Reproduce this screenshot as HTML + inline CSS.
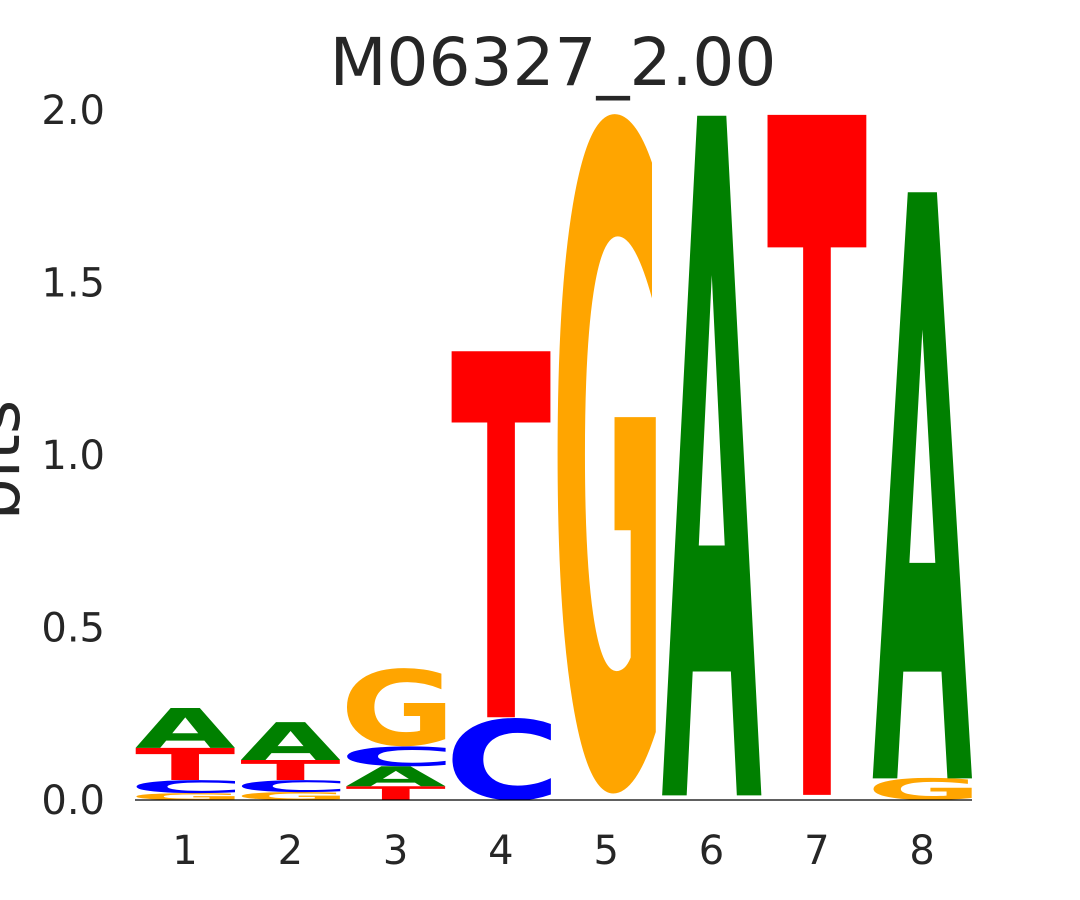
<!DOCTYPE html>
<html><head><meta charset="utf-8"><style>
html,body{margin:0;background:#fff;width:1080px;height:900px;overflow:hidden;}
svg{display:block;}
svg text{font-family:"DejaVu Sans","Liberation Sans",sans-serif;}
</style></head><body>
<svg id="chart" width="1080" height="900" xmlns="http://www.w3.org/2000/svg">
<text x="553" y="85" font-size="66" text-anchor="middle" fill="#262626">M06327_2.00</text>
<text transform="translate(19,460) rotate(-90)" font-size="66" text-anchor="middle" fill="#262626">bits</text>
<g id="yticks"></g>
<g id="xticks"></g>
<g id="letters"></g>
<line x1="135" y1="800" x2="972" y2="800" stroke="#000" stroke-width="1.2"/>
</svg>
<script>
const positions = [1,2,3,4,5,6,7,8];
const yTickValues = [0,0.5,1.0,1.5,2.0];
const yTickLabels = ["0.0","0.5","1.0","1.5","2.0"];
// stacks bottom->top: [letter, bits]; "-" = invisible tiny letters
const col1 = [["G",0.02],["C",0.038],["T",0.093],["A",0.116]];
const col2 = [["G",0.023],["C",0.035],["T",0.058],["A",0.11]];
const col3 = [["T",0.04],["A",0.058],["C",0.058],["G",0.226]];
const col4 = [["C",0.24],["T",1.061]];
const col5 = [["-",0.02],["G",1.965]];
const col6 = [["-",0.015],["A",1.971]];
const col7 = [["-",0.015],["T",1.971]];
const col8 = [["G",0.064],["A",1.70]];
const stacks = [col1,col2,col3,col4,col5,col6,col7,col8];

const NS="http://www.w3.org/2000/svg";
const colors={A:"#008000",C:"#0000ff",G:"#ffa500",T:"#ff0000"};
const yScale=v=>800-v*345;
const xScale=p=>185+(p-1)*105.3;
const yg=document.getElementById('yticks'), xg=document.getElementById('xticks'), lg=document.getElementById('letters');
yTickValues.forEach((v,i)=>{
  const t=document.createElementNS(NS,'text');
  
  
  t.setAttribute('x',105);t.setAttribute('y',yScale(v)+14);
  t.setAttribute('font-size','40');t.setAttribute('text-anchor','end');t.setAttribute('fill','#262626');
  t.textContent=yTickLabels[i];yg.appendChild(t);
});
positions.forEach(p=>{
  const t=document.createElementNS(NS,'text');
  
  
  t.setAttribute('x',xScale(p));t.setAttribute('y',864);
  t.setAttribute('font-size','40');t.setAttribute('text-anchor','middle');t.setAttribute('fill','#262626');
  t.textContent=p;xg.appendChild(t);
});
const ctx=document.createElement('canvas').getContext('2d');
ctx.font='bold 100px "DejaVu Sans","Liberation Sans",sans-serif';
function metrics(ch){
  const m=ctx.measureText(ch);
  return {l:-m.actualBoundingBoxLeft,r:m.actualBoundingBoxRight,t:-m.actualBoundingBoxAscent,b:m.actualBoundingBoxDescent};
}
stacks.forEach((stack,i)=>{
  const cx=xScale(positions[i]);
  const x0=cx-50,x1=cx+50;
  let base=0;
  stack.forEach(([ch,h])=>{
    let y1=yScale(base),y0=yScale(base+h);
    base+=h;
    if(ch==='-') return;
    const hp=y1-y0;
    if(ch==='A'){y1+=0.0145*hp;}
    else if(ch==='G'){y0-=0.012*hp;y1-=0.005*hp;}
    else if(ch==='T'){y0-=0.015*hp;}
    const m=metrics(ch);
    const sx=(x1-x0)/(m.r-m.l), sy=(y1-y0)/(m.b-m.t);
    const t=document.createElementNS(NS,'text');
    
    
    t.setAttribute('font-size','100');t.setAttribute('font-weight','bold');
    t.setAttribute('fill',colors[ch]);
    t.setAttribute('transform',`translate(${x0-m.l*sx},${y0-m.t*sy}) scale(${sx},${sy})`);
    t.textContent=ch;lg.appendChild(t);
  });
});
</script>
</body></html>
